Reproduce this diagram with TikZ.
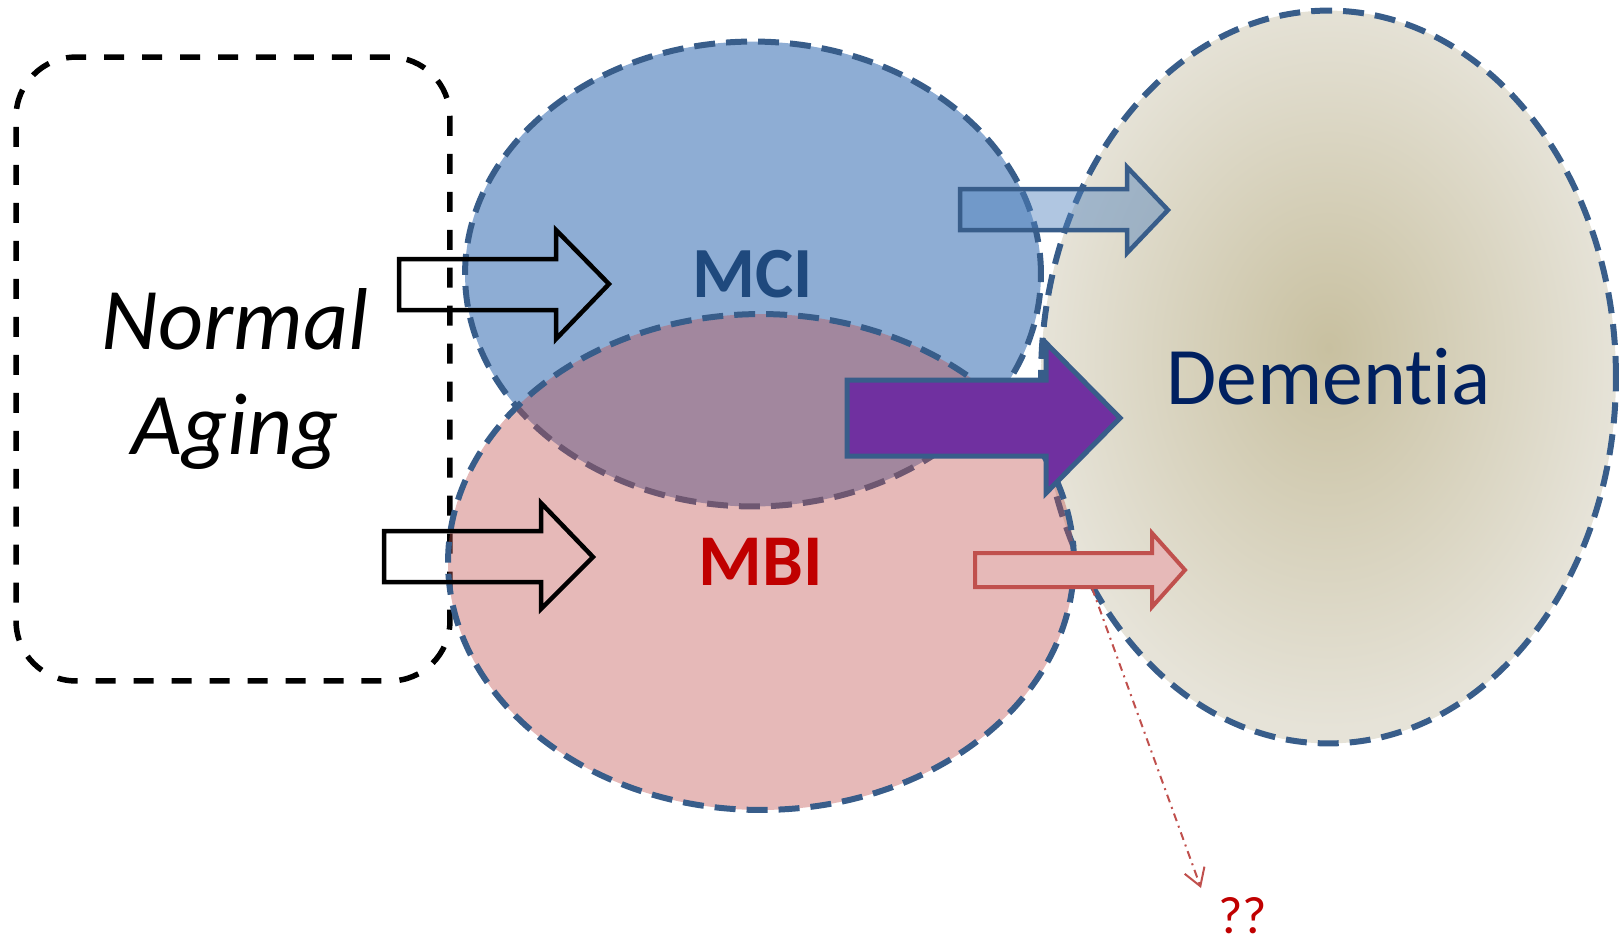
\documentclass[tikz,border=0pt]{standalone}
\usepackage{fontspec}
\setmainfont{Carlito}[Ligatures=NoCommon]
\usepackage{tikz}
\usetikzlibrary{arrows.meta,shapes.geometric}
\definecolor{edgeBlue}{HTML}{385D8A}
\definecolor{mciFill}{HTML}{8EADD4}
\definecolor{mciText}{HTML}{1F497D}
\definecolor{mbiRed}{HTML}{C0504D}
\definecolor{mbiText}{HTML}{C00000}
\definecolor{demText}{HTML}{002060}
\definecolor{demInner}{HTML}{C8C0A0}
\definecolor{demOuter}{HTML}{E6E3D8}
\definecolor{accentBlue}{HTML}{4F81BD}
\definecolor{pathPurple}{HTML}{7030A0}
\definecolor{pinkFill}{HTML}{E6B9B8}
\pgfdeclareradialshading{demShade}{\pgfpoint{0bp}{2bp}}{color(0bp)=(demInner); color(25bp)=(demOuter); color(50bp)=(demOuter)}

\begin{document}
\begin{tikzpicture}[x=0.02cm, y=-0.02cm,
        stage/.style={ellipse, draw=edgeBlue, line width=0.12cm, dash pattern=on 0.42cm off 0.22cm},
        agingbox/.style={draw=black, rounded corners=1.2cm, line width=0.11cm, dash pattern=on 0.4cm off 0.36cm, minimum width=8.68cm, minimum height=12.48cm},
        agingtext/.style={align=center, font=\fontsize{50}{60}\selectfont\itshape},
        hollow/.style={draw=black, line width=0.09cm, line join=miter},
        toDem/.style={draw=edgeBlue, fill=accentBlue, fill opacity=0.45, line width=0.09cm, line join=miter},
        bothDem/.style={draw=edgeBlue, fill=pathPurple, line width=0.1cm, line join=miter},
        mbiDem/.style={draw=mbiRed, fill=pinkFill, line width=0.08cm, line join=miter},
        maybe/.style={draw=mbiRed, line width=0.04cm, dash pattern=on 0.16cm off 0.1cm on 0.04cm off 0.1cm, -{Straight Barb[length=0.34cm, width=0.42cm]}}
    ]
        \useasboundingbox (0,0) rectangle (1624,948);

        \node[agingbox] (normal) at (233,369) {};
        \node[agingtext] (normalLabel) at (235,379) {Normal\\Aging};

        \node[stage, shade, shading=demShade, minimum width=11.5cm, minimum height=14.66cm, text=demText, font=\fontsize{46.5}{50}\selectfont] (dementia) at (1328.5,377) {Dementia};
        \node[stage, fill=mciFill, minimum width=11.52cm, minimum height=9.3cm, text=mciText, font=\fontsize{41}{44}\selectfont\bfseries] (mci) at (753,274) {MCI};
        \node[stage, fill=mbiRed, fill opacity=0.4, text opacity=1, minimum width=12.52cm, minimum height=9.92cm, text=mbiText, font=\fontsize{41.5}{44}\selectfont\bfseries] (mbi) at (761,562) {MBI};

        % normal aging -> MCI / MBI
        \draw[hollow] (399,259) -- (556,259) -- (556,230) -- (609,284) -- (556,339) -- (556,310) -- (399,310) -- cycle;
        \draw[hollow] (384,531) -- (541,531) -- (541,503) -- (593,557) -- (541,609) -- (541,582) -- (384,582) -- cycle;

        % towards dementia
        \draw[toDem] (960,189) -- (1127,189) -- (1127,167) -- (1168,210) -- (1127,253) -- (1127,230) -- (960,230) -- cycle;
        \draw[bothDem] (847,380) -- (1046,380) -- (1046,343) -- (1120,418) -- (1046,493) -- (1046,456) -- (847,456) -- cycle;
        \draw[mbiDem] (975,553) -- (1152,553) -- (1152,533) -- (1185,570) -- (1152,607) -- (1152,587) -- (975,587) -- cycle;

        \node[anchor=base, inner sep=0pt, text=mbiText, font=\fontsize{30}{32}\selectfont] (qq) at (1243,933) {??};
        \coordinate (drop) at (1092,588);
        \coordinate (dropEnd) at (1201,888);
        \draw[maybe] (drop) -- (dropEnd);
    \end{tikzpicture}
\end{document}
